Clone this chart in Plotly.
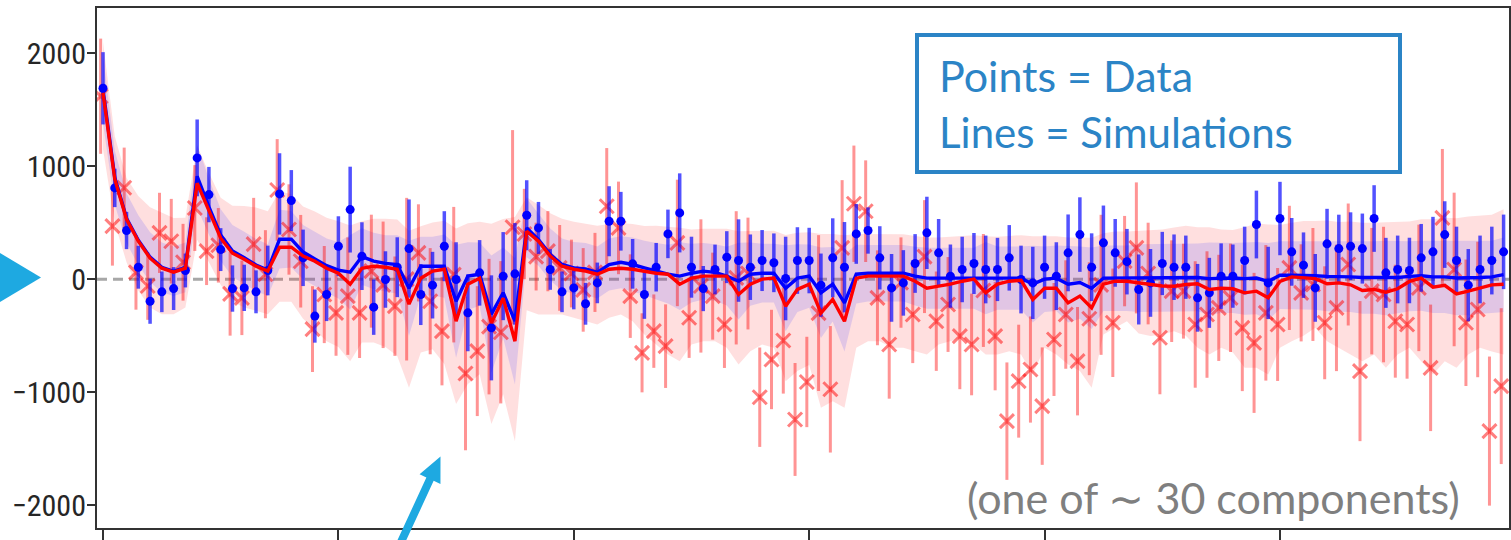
import plotly.graph_objects as go

# ---------------- data ----------------
idx = list(range(120))

blue_data = [1690, 808, 431, 106, -195, -112, -83, 77, 1074, 749,
             262, -83, -77, -112, 77, 755, 696, 189, -327, -136,
             292, 616, 204, -248, -3, 106, 271, -136, -53, 292,
             -3, -298, 56, -431, 27, 47, 566, 454, 86, -112,
             -77, -218, -33, 513, 513, 136, -136, 106, 401, 587,
             106, -83, 86, 195, 165, 106, 165, 145, 6, 165,
             165, -53, 189, 106, 401, 431, 189, -77, -33, 139,
             410, 233, 27, 86, 139, 86, 86, 189, -3, -33,
             106, 27, 233, 395, 106, 322, 233, 155, -91, -33,
             139, 106, 106, -165, -121, 27, 27, 165, 484, -33,
             537, 242, 124, -77, 313, 271, 292, 271, 537, 56,
             86, 77, 189, 242, 395, 165, -53, 86, 165, 242]

blue_err = [320, 170, 165, 190, 200, 180, 190, 150, 340, 245,
            190, 205, 205, 190, 220, 360, 270, 250, 235, 235,
            265, 380, 300, 245, 250, 265, 435, 270, 295, 310,
            330, 340, 290, 465, 390, 450, 310, 230, 180, 180,
            190, 185, 180, 310, 260, 220, 215, 215, 215, 350,
            270, 200, 220, 230, 365, 290, 270, 260, 370, 295,
            290, 280, 350, 400, 265, 205, 280, 300, 290, 260,
            320, 300, 280, 290, 270, 300, 280, 290, 300, 320,
            280, 300, 340, 330, 300, 330, 300, 290, 310, 300,
            280, 290, 280, 300, 310, 290, 280, 300, 300, 320,
            325, 300, 290, 300, 310, 300, 300, 310, 295, 310,
            300, 290, 300, 310, 295, 300, 320, 300, 300, 330]

red_data = [1620, 470, 810, 60, -60, 410, 336, 150, 630, 248,
            300, -130, -165, 310, 44, 790, 440, 159, -442, -136,
            -298, -150, -298, 71, -50, -239, 0, 233, -195, -460,
            40, -835, -637, -420, -470, 460, 400, 200, 248, 100,
            50, -95, 60, 646, 454, -150, -652, -460, -593, 321,
            -342, -60, -150, -401, 12, 50, -1045, -711, -543, -1242,
            -910, -300, -975, 277, 668, 602, -165, -578, -30, -313,
            200, -372, -224, -504, -578, -100, -504, -1257, -903, -800,
            -1124, -534, -313, -726, -350, -50, -386, 160, 277, 50,
            -519, -106, -106, -401, -313, -254, -165, -431, -564, -298,
            -401, 100, -121, -47, -386, -254, 130, -814, -106, -136,
            -372, -401, -77, -785, 543, 86, -386, -268, -1345, -947]

red_err = [510, 350, 355, 330, 300, 355, 375, 340, 380, 300,
           330, 370, 330, 410, 390, 450, 400, 410, 380, 430,
           380, 520, 400, 500, 560, 440, 720, 430, 470, 480,
           600, 680, 575, 600, 630, 860, 400, 300, 355, 380,
           300, 370, 350, 515, 410, 370, 350, 325, 370, 560,
           355, 590, 385, 385, 590, 495, 440, 440, 470, 500,
           400, 690, 560, 600, 515, 450, 420, 480, 400, 430,
           500, 440, 420, 470, 450, 500, 480, 520, 500, 470,
           520, 500, 480, 480, 500, 620, 480, 400, 580, 450,
           500, 450, 420, 560, 560, 470, 480, 560, 620, 600,
           500, 550, 430, 500, 500, 560, 540, 620, 560, 600,
           500, 480, 560, 560, 610, 680, 560, 600, 660, 690]

blue_sim = [1680, 900, 540, 345, 195, 105, 70, 105, 911, 640,
            390, 250, 190, 125, 80, 354, 354, 240, 180, 120,
            80, 62, 200, 160, 140, 130, -80, 115, 115, 115,
            -195, 27, 44, -310, -120, -372, 454, 350, 218, 130,
            100, 90, 60, 130, 150, 130, 100, 71, 44, 27,
            53, 71, 60, 27, -18, 44, 53, 53, -80, 9,
            27, -120, -44, -210, 44, 53, 53, 53, 53, 27,
            9, 9, 9, 9, 9, 9, 9, 9, 9, -44,
            0, 9, -44, -30, -80, 9, 9, 9, 9, 9,
            9, 10, 15, 15, 5, 10, 10, 5, 10, -20,
            35, 35, 35, 30, 25, 25, 20, 15, 15, 10,
            15, 25, 30, 20, 20, 10, 10, 15, 20, 40]

red_sim = [1650, 885, 530, 336, 186, 97, 62, 97, 850, 600,
           363, 230, 177, 115, 71, 283, 283, 204, 159, 97,
           53, -44, 97, 115, 106, 88, -221, 9, 71, 88,
           -372, -44, 9, -389, -168, -549, 425, 336, 204, 115,
           88, 71, 44, 88, 97, 88, 71, 53, 44, -44,
           9, 27, 27, 27, -135, -44, 0, 9, -239, -90,
           -44, -300, -180, -372, 9, 27, 27, 27, 27, -18,
           -80, -62, -44, -18, 0, -120, -44, -18, -10, -180,
           -80, -80, -210, -150, -254, -44, -18, -18, -30, -44,
           -60, -62, -47, -40, -91, -80, -85, -121, -106, -165,
           -20, 20, 15, 5, -40, -33, -50, -100, -91, -115,
           -85, -20, 10, -70, -55, -130, -106, -80, -50, -45]

blue_sim_sig = [300, 240, 220, 220, 220, 220, 220, 220, 280, 250,
                230, 230, 230, 230, 230, 260, 250, 240, 240, 240,
                250, 330, 250, 250, 250, 260, 420, 260, 260, 280,
                500, 300, 280, 520, 400, 560, 260, 230, 230, 230,
                230, 230, 230, 230, 230, 240, 240, 250, 260, 300,
                260, 250, 250, 260, 340, 280, 260, 260, 380, 300,
                280, 400, 330, 430, 260, 250, 250, 250, 250, 260,
                270, 270, 270, 270, 270, 320, 280, 280, 280, 340,
                290, 290, 340, 320, 360, 290, 290, 290, 300, 300,
                300, 300, 300, 300, 320, 310, 310, 320, 320, 340,
                300, 300, 300, 300, 310, 310, 310, 320, 320, 330,
                320, 310, 310, 320, 320, 330, 330, 320, 320, 330]

red_sim_up = [450, 380, 366, 400, 450, 490, 480, 446, 330, 340,
              357, 420, 470, 520, 530, 496, 470, 440, 440, 446,
              460, 520, 416, 420, 430, 440, 650, 460, 430, 430,
              820, 540, 500, 880, 700, 1100, 300, 320, 380, 420,
              420, 420, 430, 400, 400, 400, 400, 420, 420, 500,
              430, 420, 420, 420, 560, 470, 430, 420, 630, 500,
              460, 700, 580, 760, 390, 370, 370, 370, 370, 400,
              450, 430, 420, 400, 390, 500, 420, 400, 400, 560,
              460, 460, 580, 520, 620, 450, 440, 440, 460, 480,
              500, 520, 520, 500, 550, 520, 520, 580, 600, 650,
              500, 480, 500, 510, 560, 540, 560, 600, 590, 620,
              590, 530, 520, 600, 600, 670, 660, 640, 620, 665]

red_sim_dn = [500, 385, 380, 436, 436, 407, 372, 347, 500, 450,
              413, 430, 427, 395, 381, 483, 483, 554, 609, 647,
              653, 682, 657, 675, 706, 768, 741, 659, 691, 838,
              734, 885, 850, 894, 850, 885, 700, 649, 517, 428,
              430, 443, 445, 430, 410, 460, 561, 631, 711, 682,
              587, 576, 576, 635, 620, 593, 578, 617, 664, 724,
              716, 839, 900, 767, 617, 576, 576, 635, 635, 619,
              587, 516, 505, 501, 578, 547, 623, 619, 657, 664,
              528, 587, 545, 664, 708, 446, 413, 354, 450, 460,
              430, 400, 453, 568, 576, 528, 565, 664, 679, 679,
              588, 569, 515, 436, 509, 575, 617, 626, 576, 670,
              582, 588, 736, 774, 671, 655, 561, 528, 590, 622]

y_tick_vals = [2000, 1000, 0, -1000, -2000]
y_tick_text = ["2000", "1000", "0", "\u22121000", "\u22122000"]
x_tick_vals = [0, 20, 40, 60, 80, 100]

# ---------------- layout geometry (pixels) ----------------
W, H = 1511, 540
ML, MR, MT, MB = 97, 2, 8, 12
PW, PH = W - ML - MR, H - MT - MB


def px(xp):
    return (xp - ML) / PW


def py(yp):
    return (H - MB - yp) / PH


fig = go.Figure()

# red simulation band
red_hi = [m + u for m, u in zip(red_sim, red_sim_up)]
red_lo = [m - d for m, d in zip(red_sim, red_sim_dn)]
fig.add_trace(go.Scatter(x=idx, y=red_hi, mode="lines", line=dict(width=0),
                         hoverinfo="skip", showlegend=False))
fig.add_trace(go.Scatter(x=idx, y=red_lo, mode="lines", line=dict(width=0),
                         fill="tonexty", fillcolor="rgba(255,40,40,0.15)",
                         hoverinfo="skip", showlegend=False))

# blue simulation band
blue_hi = [m + s for m, s in zip(blue_sim, blue_sim_sig)]
blue_lo = [m - s for m, s in zip(blue_sim, blue_sim_sig)]
fig.add_trace(go.Scatter(x=idx, y=blue_hi, mode="lines", line=dict(width=0),
                         hoverinfo="skip", showlegend=False))
fig.add_trace(go.Scatter(x=idx, y=blue_lo, mode="lines", line=dict(width=0),
                         fill="tonexty", fillcolor="rgba(80,70,255,0.17)",
                         hoverinfo="skip", showlegend=False))

# red data points with error bars
red_x = [i - 0.2 for i in idx]
fig.add_trace(go.Scatter(
    x=red_x, y=red_data, mode="markers",
    marker=dict(symbol="x-thin", size=14, color="rgba(255,0,0,0.5)",
                line=dict(width=3, color="rgba(255,0,0,0.5)")),
    error_y=dict(type="data", array=red_err, visible=True,
                 color="rgba(255,0,0,0.42)", thickness=3, width=0),
    showlegend=False))

# blue data points with error bars
fig.add_trace(go.Scatter(
    x=idx, y=blue_data, mode="markers",
    marker=dict(symbol="circle", size=9, color="rgb(0,0,255)"),
    error_y=dict(type="data", array=blue_err, visible=True,
                 color="rgba(0,0,255,0.68)", thickness=3.5, width=0),
    showlegend=False))

# simulation mean lines
fig.add_trace(go.Scatter(x=idx, y=blue_sim, mode="lines",
                         line=dict(color="rgb(0,0,255)", width=3.4),
                         showlegend=False))
fig.add_trace(go.Scatter(x=idx, y=red_sim, mode="lines",
                         line=dict(color="rgb(255,0,0)", width=3.4),
                         showlegend=False))

shapes = []
# dashed zero line
shapes.append(dict(type="line", xref="paper", yref="y", x0=0, x1=1, y0=0, y1=0,
                   line=dict(color="rgba(120,120,120,0.65)", width=3, dash="10px,6px"),
                   layer="below"))
# text box
shapes.append(dict(type="rect", xref="paper", yref="paper",
                   x0=px(917), x1=px(1400), y0=py(172), y1=py(35),
                   line=dict(color="#2b84c6", width=4), fillcolor="rgba(255,255,255,0)"))
# left triangle marker
tri = "M {:.5f},{:.5f} L {:.5f},{:.5f} L {:.5f},{:.5f} Z".format(
    px(0), py(253), px(41), py(277.5), px(0), py(302))
shapes.append(dict(type="path", xref="paper", yref="paper", path=tri,
                   fillcolor="#1ea9e1", line=dict(width=0)))

# bottom arrow
bx, by = 401.0, 542.0
tx, ty = 440.5, 456.5
L = ((tx - bx) ** 2 + (ty - by) ** 2) ** 0.5
ux, uy = (tx - bx) / L, (ty - by) / L
nx, ny = -uy, ux
hw, hl, hh = 4.0, 25.0, 11.5
cx, cy = tx - hl * ux, ty - hl * uy
pts = [
    (bx + hw * nx, by + hw * ny),
    (cx + hw * nx, cy + hw * ny),
    (cx + hh * nx, cy + hh * ny),
    (tx, ty),
    (cx - hh * nx, cy - hh * ny),
    (cx - hw * nx, cy - hw * ny),
    (bx - hw * nx, by - hw * ny),
]
arrow = "M " + " L ".join("{:.5f},{:.5f}".format(px(a), py(b)) for a, b in pts) + " Z"
shapes.append(dict(type="path", xref="paper", yref="paper", path=arrow,
                   fillcolor="#1ea9e1", line=dict(width=0)))

annotations = [
    dict(text="Points = Data", xref="paper", yref="paper", x=px(937), y=py(75),
         xanchor="left", yanchor="middle", showarrow=False,
         font=dict(family="Lato", size=43, color="#2b84c6")),
    dict(text="Lines = Simulations", xref="paper", yref="paper", x=px(937), y=py(132),
         xanchor="left", yanchor="middle", showarrow=False,
         font=dict(family="Lato", size=42, color="#2b84c6")),
    dict(text="(one of \u223c 30 components)", xref="paper", yref="paper",
         x=px(1462), y=py(497), xanchor="right", yanchor="middle", showarrow=False,
         font=dict(family="Lato", size=43, color="#7f7f7f")),
]

fig.update_layout(
    width=W, height=H,
    margin=dict(l=ML, r=MR, t=MT, b=MB, pad=0, autoexpand=False),
    paper_bgcolor="white", plot_bgcolor="white",
    showlegend=False,
    shapes=shapes, annotations=annotations,
    xaxis=dict(range=[-0.51, 119.46], showgrid=False, zeroline=False, automargin=False,
               showline=True, mirror=True, linecolor="#333333", linewidth=2,
               ticks="outside", ticklen=11, tickwidth=1.5, tickcolor="#333333",
               tickvals=x_tick_vals, showticklabels=False),
    yaxis=dict(range=[-2203, 2401], showgrid=False, zeroline=False, automargin=False,
               showline=True, mirror=True, linecolor="#333333", linewidth=2,
               ticks="outside", ticklen=8, tickwidth=1.5, tickcolor="#333333",
               tickvals=y_tick_vals, ticktext=y_tick_text, ticklabelstandoff=-5,
               tickfont=dict(family="Liberation Sans Narrow, Roboto Condensed, DejaVu Sans Condensed, Roboto, sans-serif",
                             size=30, color="#262626")),
)

fig.write_html("out.html",
               config={"displayModeBar": False},
               post_script="document.body.style.margin='0px';document.body.style.padding='0px';")
